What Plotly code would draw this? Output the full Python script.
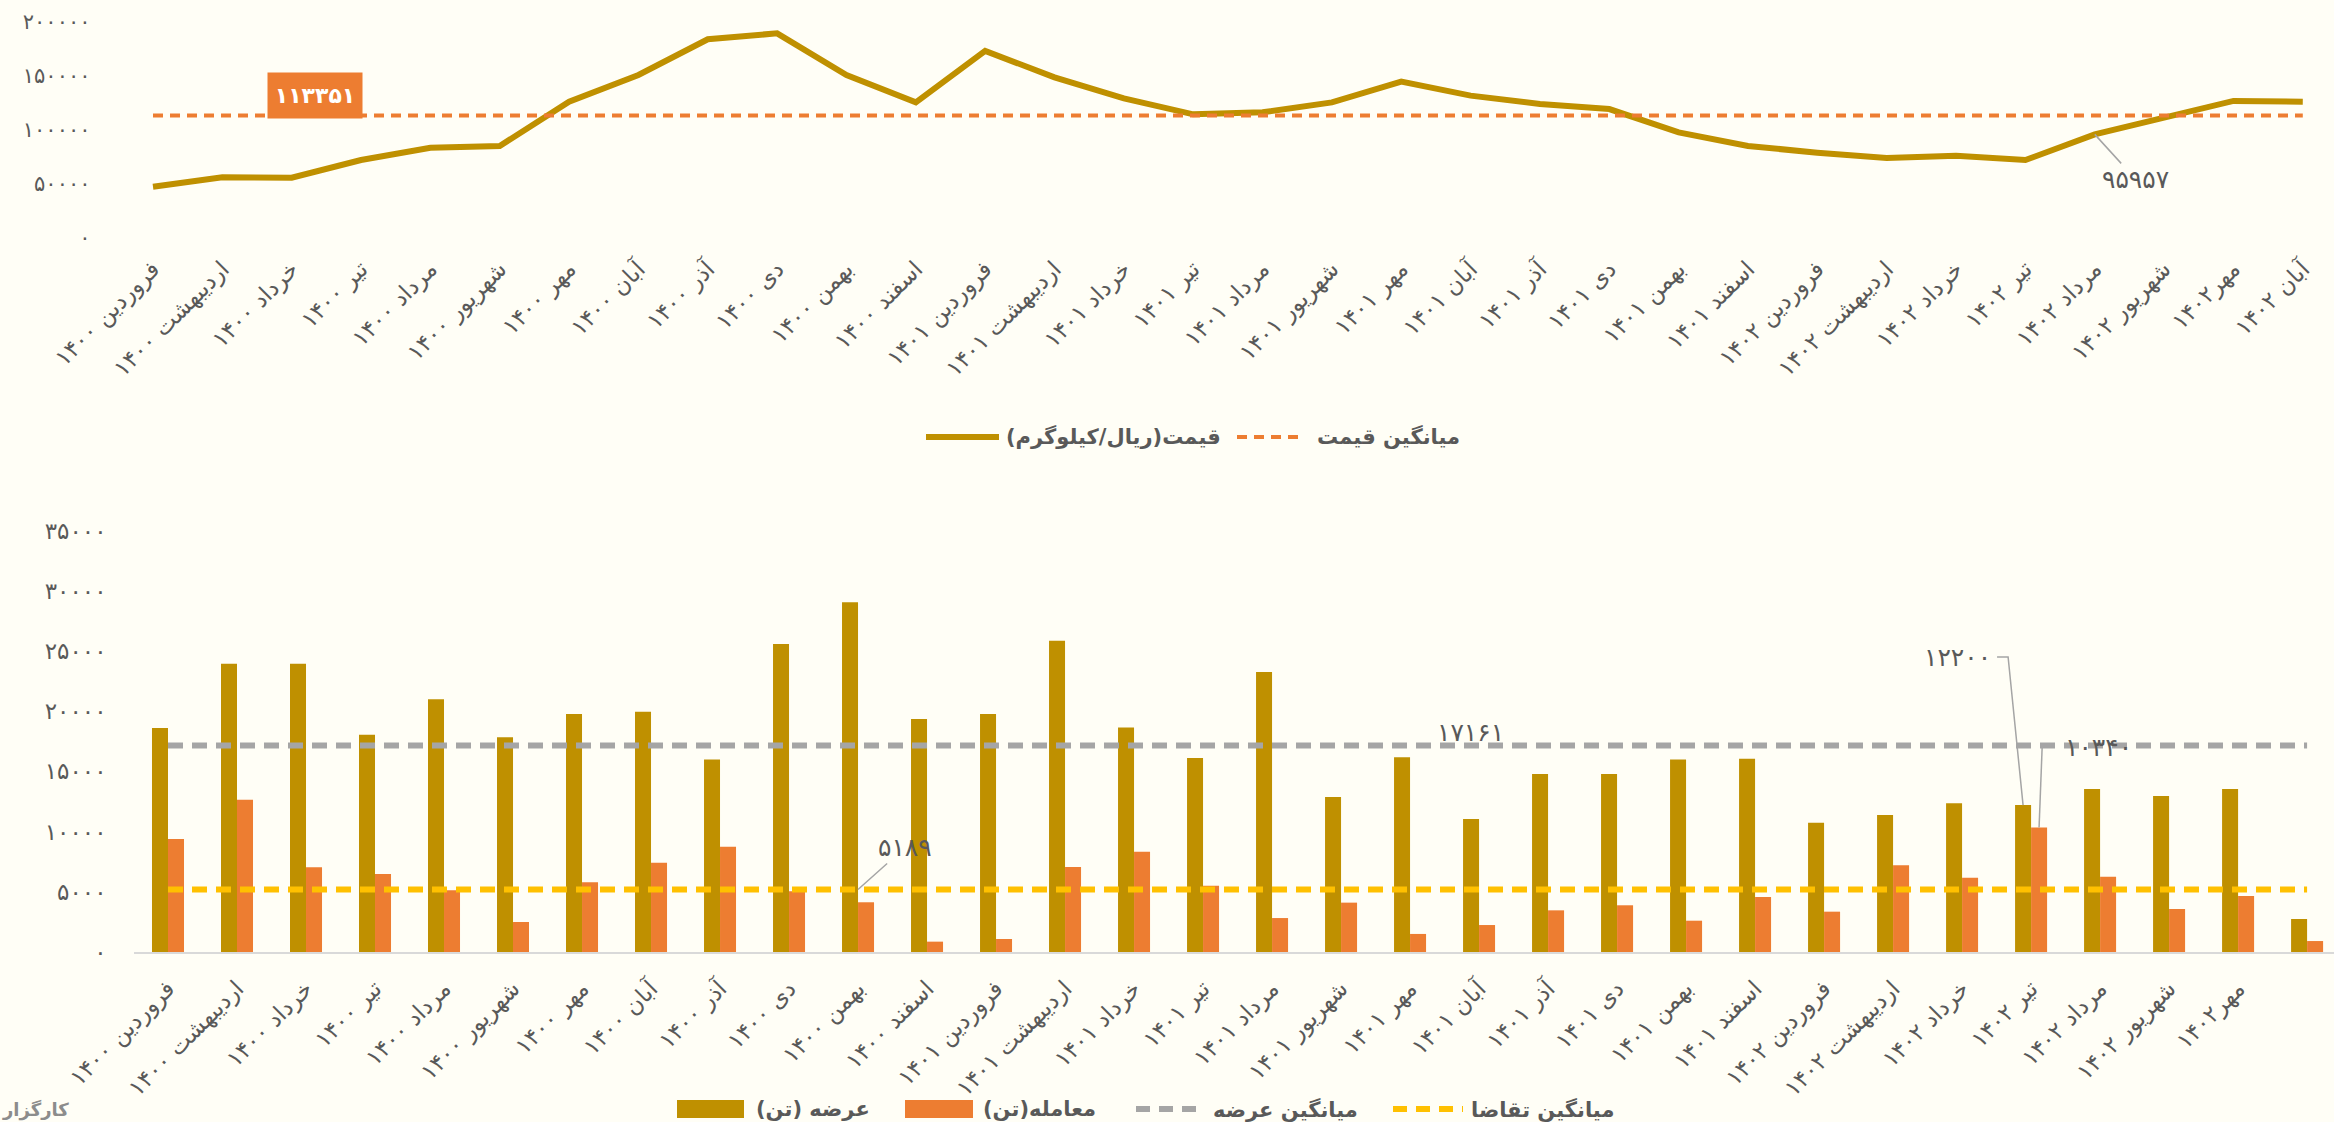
import plotly.graph_objects as go

W, H = 2334, 1122

# ---- data -------------------------------------------------------------
period_labels = [
    "فروردین ۱۴۰۰", "اردیبهشت ۱۴۰۰", "خرداد ۱۴۰۰", "تیر ۱۴۰۰", "مرداد ۱۴۰۰", "شهریور ۱۴۰۰",
    "مهر ۱۴۰۰", "آبان ۱۴۰۰", "آذر ۱۴۰۰", "دی ۱۴۰۰", "بهمن ۱۴۰۰", "اسفند ۱۴۰۰",
    "فروردین ۱۴۰۱", "اردیبهشت ۱۴۰۱", "خرداد ۱۴۰۱", "تیر ۱۴۰۱", "مرداد ۱۴۰۱", "شهریور ۱۴۰۱",
    "مهر ۱۴۰۱", "آبان ۱۴۰۱", "آذر ۱۴۰۱", "دی ۱۴۰۱", "بهمن ۱۴۰۱", "اسفند ۱۴۰۱",
    "فروردین ۱۴۰۲", "اردیبهشت ۱۴۰۲", "خرداد ۱۴۰۲", "تیر ۱۴۰۲", "مرداد ۱۴۰۲", "شهریور ۱۴۰۲",
    "مهر۱۴۰۲", "آبان ۱۴۰۲",
]
bar_labels = period_labels[:31] + [""]

# price (rial / kg)
price = [47500, 56200, 55900, 72200, 83600, 85200, 126200, 150900, 184000, 189500,
         150900, 125600, 173200, 148800, 129300, 114500, 116400, 125600, 144800, 131800,
         124100, 119400, 97800, 85200, 79000, 74100, 76200, 72200, 95957, 110800,
         126900, 126200]
price_avg = 113351

# supply and traded volume (tonnes)
supply = [18610, 23950, 23950, 18050, 20990, 17830, 19770, 19960, 15980, 25590,
          29050, 19360, 19770, 25860, 18640, 16120, 23260, 12880, 16170, 11050,
          14790, 14790, 15980, 16060, 10740, 11380, 12350, 12200, 13540, 12960,
          13540, 2740]
trade = [9390, 12650, 7030, 6480, 5120, 2490, 5790, 7420, 8750, 5040,
         4130, 860, 1080, 7060, 8330, 5510, 2820, 4100, 1500, 2240,
         3460, 3880, 2600, 4570, 3350, 7200, 6170, 10340, 6260, 3570,
         4650, 910]
supply_avg = 17161
demand_avg = 5189

price_ticks = [0, 50000, 100000, 150000, 200000]
volume_ticks = [0, 5000, 10000, 15000, 20000, 25000, 30000, 35000]

# ---- helpers ----------------------------------------------------------
FA = str.maketrans("0123456789", "۰۱۲۳۴۵۶۷۸۹")


def fa(v):
    return str(v).translate(FA)


def px(x):
    return x / W


def py(y):
    return 1 - y / H


GOLD = "#BF9000"
ORANGE = "#ED7D31"
GRAY = "#A5A5A5"
YELLOW = "#FFC000"
TXT = "#595959"
BG = "#FFFEF6"
FONT = "DejaVu Sans"

xs = list(range(len(period_labels)))

fig = go.Figure()

# ---- price chart ------------------------------------------------------
fig.add_trace(go.Scatter(x=xs, y=price, mode="lines", name="قیمت(ریال/کیلوگرم)",
                         line=dict(color=GOLD, width=6), xaxis="x", yaxis="y",
                         showlegend=False))
fig.add_trace(go.Scatter(x=xs, y=[price_avg] * len(xs), mode="lines", name="میانگین قیمت",
                         line=dict(color=ORANGE, width=4, dash="10px,7px"),
                         xaxis="x", yaxis="y", showlegend=False))

# ---- supply / trade chart --------------------------------------------
fig.add_trace(go.Bar(x=xs, y=supply, name="عرضه (تن)", marker=dict(color=GOLD, line=dict(width=0)),
                     xaxis="x2", yaxis="y2", showlegend=False))
fig.add_trace(go.Bar(x=xs, y=trade, name="معامله(تن)", marker=dict(color=ORANGE, line=dict(width=0)),
                     xaxis="x2", yaxis="y2", showlegend=False))
fig.add_trace(go.Scatter(x=xs, y=[supply_avg] * len(xs), mode="lines", name="میانگین عرضه",
                         line=dict(color=GRAY, width=6, dash="15px,9px"),
                         xaxis="x2", yaxis="y2", showlegend=False))
fig.add_trace(go.Scatter(x=xs, y=[demand_avg] * len(xs), mode="lines", name="میانگین تقاضا",
                         line=dict(color=YELLOW, width=6, dash="15px,9px"),
                         xaxis="x2", yaxis="y2", showlegend=False))

xtickfont = dict(family=FONT, size=23, color=TXT)

fig.update_layout(
    width=W, height=H,
    margin=dict(l=0, r=0, t=0, b=0),
    paper_bgcolor=BG, plot_bgcolor=BG,
    font=dict(family=FONT, color=TXT),
    barmode="group", bargap=0.536, bargroupgap=0,
    xaxis=dict(domain=[px(133.5), 1], range=[-0.281, 31.45], anchor="y", automargin=False,
               tickmode="array", tickvals=xs, ticktext=period_labels, tickangle=-45,
               showgrid=False, zeroline=False, showline=False, ticks="",
               tickfont=xtickfont, ticklabelstandoff=12),
    yaxis=dict(domain=[py(238), py(22)], range=[0, 200000], anchor="x", automargin=False,
               tickmode="array", tickvals=price_ticks, ticktext=[fa(v) for v in price_ticks],
               showgrid=False, zeroline=False, showline=False, ticks="",
               tickfont=dict(family=FONT, size=21, color=TXT), ticklabelstandoff=42),
    xaxis2=dict(domain=[px(133.5), 1], range=[-0.5, 31.39], anchor="y2", automargin=False,
                tickmode="array", tickvals=xs, ticktext=bar_labels, tickangle=-45,
                showgrid=False, zeroline=False, showline=True, linecolor="#D9D9D9",
                linewidth=2, ticks="", tickfont=xtickfont, ticklabelstandoff=12),
    yaxis2=dict(domain=[py(952), py(530.6)], range=[0, 35000], anchor="x2", automargin=False,
                tickmode="array", tickvals=volume_ticks, ticktext=[fa(v) for v in volume_ticks],
                showgrid=False, zeroline=False, showline=False, ticks="",
                tickfont=dict(family=FONT, size=23, color=TXT), ticklabelstandoff=26),
)

annotations = []
shapes = []

# average price badge
annotations.append(dict(x=2.336, y=131944, xref="x", yref="y", text="<b>" + fa(price_avg) + "</b>",
                        showarrow=False, bgcolor=ORANGE, width=94, height=45, borderpad=0,
                        font=dict(family=FONT, size=22, color="white")))
# price callout
annotations.append(dict(x=28, y=price[28], xref="x", yref="y", text=fa(price[28]),
                        showarrow=True, arrowhead=0, arrowwidth=1.5, arrowcolor=GRAY,
                        ax=41, ay=45, font=dict(family=FONT, size=25, color=TXT)))

# averages on the volume chart
annotations.append(dict(x=18.88, y=18272, xref="x2", yref="y2", text=fa(supply_avg),
                        showarrow=False, font=dict(family=FONT, size=25, color=TXT)))
annotations.append(dict(x=10, y=demand_avg, xref="x2", yref="y2", text=fa(demand_avg),
                        showarrow=True, arrowhead=0, arrowwidth=1.5, arrowcolor=GRAY,
                        ax=47, ay=-42, font=dict(family=FONT, size=25, color=TXT)))

# callouts for تیر ۱۴۰۲ bars
shapes.append(dict(type="path", xref="x2", yref="y2",
                   path=f"M 26.884,{supply[27]} L 26.667,24500 L 26.507,24500",
                   line=dict(color=GRAY, width=1.5)))
annotations.append(dict(x=26.45, y=24500, xref="x2", yref="y2", text=fa(supply[27]),
                        xanchor="right", showarrow=False,
                        font=dict(family=FONT, size=25, color=TXT)))
shapes.append(dict(type="path", xref="x2", yref="y2",
                   path=f"M 27.116,{trade[27]} L 27.16,16944",
                   line=dict(color=GRAY, width=1.5)))
annotations.append(dict(x=27.46, y=16944, xref="x2", yref="y2", text=fa(trade[27]),
                        xanchor="left", showarrow=False,
                        font=dict(family=FONT, size=25, color=TXT)))

# ---- legends ----------------------------------------------------------
legfont = dict(family=FONT, size=21, color=TXT)


def leg_text(x, y, text):
    annotations.append(dict(x=px(x), y=py(y), xref="paper", yref="paper", text="<b>" + text + "</b>",
                            xanchor="left", yanchor="middle", showarrow=False, font=legfont))


# price chart legend
shapes.append(dict(type="line", xref="paper", yref="paper", x0=px(926), x1=px(999),
                   y0=py(437), y1=py(437), line=dict(color=GOLD, width=6)))
leg_text(1004, 437, "قیمت(ریال/کیلوگرم)")
shapes.append(dict(type="line", xref="paper", yref="paper", x0=px(1237), x1=px(1305),
                   y0=py(437), y1=py(437), line=dict(color=ORANGE, width=4, dash="10px,7px")))
leg_text(1315, 437, "میانگین قیمت")

# volume chart legend
shapes.append(dict(type="rect", xref="paper", yref="paper", x0=px(677), x1=px(744),
                   y0=py(1118), y1=py(1100), fillcolor=GOLD, line=dict(width=0)))
leg_text(754, 1109, "عرضه (تن)")
shapes.append(dict(type="rect", xref="paper", yref="paper", x0=px(905), x1=px(973),
                   y0=py(1118), y1=py(1100), fillcolor=ORANGE, line=dict(width=0)))
leg_text(981, 1109, "معامله(تن)")
shapes.append(dict(type="line", xref="paper", yref="paper", x0=px(1136), x1=px(1201),
                   y0=py(1109), y1=py(1109), line=dict(color=GRAY, width=6, dash="14px,9px")))
leg_text(1211, 1109, "میانگین عرضه")
shapes.append(dict(type="line", xref="paper", yref="paper", x0=px(1393), x1=px(1463),
                   y0=py(1109), y1=py(1109), line=dict(color=YELLOW, width=6, dash="14px,9px")))
leg_text(1469, 1109, "میانگین تقاضا")

# watermark
annotations.append(dict(x=0, y=py(1110), xref="paper", yref="paper", text="<b>کارگزار</b>",
                        xanchor="left", yanchor="middle", showarrow=False,
                        font=dict(family=FONT, size=18, color="#8C8C8C")))

fig.update_layout(annotations=annotations, shapes=shapes)

fig.write_html("out.html")
